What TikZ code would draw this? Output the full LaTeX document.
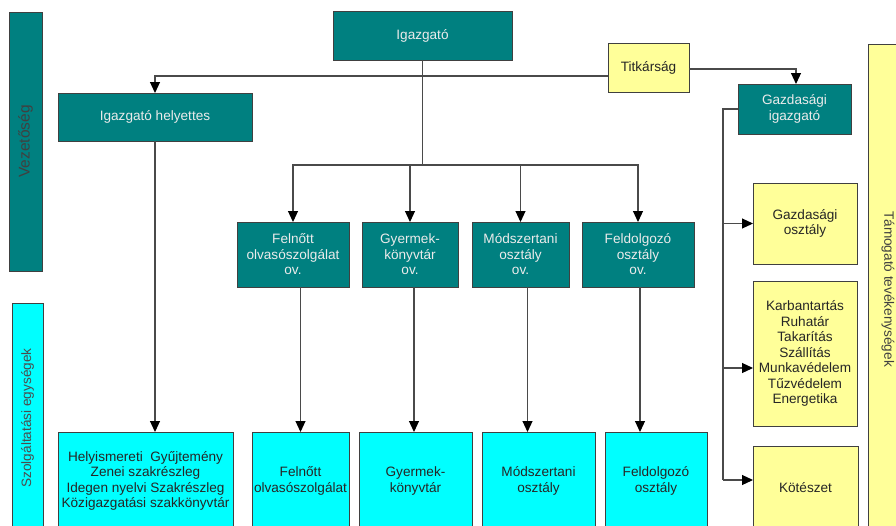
\documentclass[tikz,border=0pt]{standalone}
\usepackage{fontspec}
\setmainfont{Liberation Sans}
\usetikzlibrary{arrows.meta,positioning}
\definecolor{tealc}{HTML}{008080}
\definecolor{yelc}{HTML}{FFFF99}
\definecolor{cyanc}{HTML}{00FFFF}
\definecolor{bordc}{HTML}{404040}
\definecolor{linec}{HTML}{4A4A4A}
\tikzset{
  basebox/.style={draw=bordc, line width=0.9pt, inner sep=1pt, outer sep=0pt, align=center,
    font=\fontsize{13.6}{15.5}\selectfont},
  tealbox/.style={basebox, fill=tealc, text=white!92!black},
  yelbox/.style={basebox, fill=yelc, text=black!85},
  cyanbox/.style={basebox, fill=cyanc, text=black!85},
  nw/.style={anchor=north west},
  wh/.style 2 args={minimum width=#1pt, minimum height=#2pt},
  conn/.style={draw=linec, line width=1.1pt},
  arr/.style={conn, -{Triangle[length=11pt,width=10pt,fill=black,color=black]}},
}
\begin{document}
\begin{tikzpicture}[x=1pt,y=-1pt]
\useasboundingbox (0,0) rectangle (896,525);
% side bars
\node[tealbox, text=black!75, rotate=90, wh={259}{33}, font=\fontsize{15.5}{17}\selectfont] (vez) at (25.5,141.5) {Vezetőség};
\node[cyanbox, text=black!70, rotate=90, wh={230}{31}] (szolg) at (27.5,418) {Szolgáltatási egységek};
\node[yelbox, text=black!75, rotate=-90, wh={490}{40}] (tam) at (888,289) {Támogató tevékenységek};
% top
\node[tealbox, nw, wh={179}{49}] (ig) at (333,11) {Igazgató};
\node[tealbox, nw, wh={194}{48}] (hely) at (58,93) {Igazgató helyettes};
\node[yelbox, nw, wh={81}{49}] (tit) at (608,43) {Titkárság};
\node[tealbox, nw, wh={113}{50}] (gig) at (738,84) {Gazdasági\\igazgató};
% middle row
\node[tealbox, nw, wh={112}{65}] (f1) at (237,222) {Felnőtt\\olvasószolgálat\\ov.};
\node[tealbox, nw, wh={96}{65}] (f2) at (362,222) {Gyermek-\\könyvtár\\ov.};
\node[tealbox, nw, wh={97}{65}] (f3) at (472,222) {Módszertani\\osztály\\ov.};
\node[tealbox, nw, wh={112}{65}] (f4) at (582,222) {Feldolgozó\\osztály\\ov.};
% bottom row
\node[cyanbox, nw, wh={175}{98}] (b1) at (58,432) {Helyismereti\ \ Gyűjtemény\\Zenei szakrészleg\\Idegen nyelvi Szakrészleg\\Közigazgatási szakkönyvtár};
\node[cyanbox, nw, wh={97}{98}] (b2) at (252,432) {Felnőtt\\olvasószolgálat};
\node[cyanbox, nw, wh={113}{98}] (b3) at (359,432) {Gyermek-\\könyvtár};
\node[cyanbox, nw, wh={113}{98}] (b4) at (482,432) {Módszertani\\osztály};
\node[cyanbox, nw, wh={102}{98}] (b5) at (605,432) {Feldolgozó\\osztály};
% right column
\node[yelbox, nw, wh={104}{81}] (y1) at (753,183) {Gazdasági\\osztály};
\node[yelbox, nw, wh={104}{145}] (y2) at (753,281) {Karbantartás\\Ruhatár\\Takarítás\\Szállítás\\Munkavédelem\\Tűzvédelem\\Energetika};
\node[yelbox, nw, wh={105}{84}] (y3) at (753,446) {Kötészet};
% connectors
\coordinate (topbus) at (ig.south |- 0,76);
\coordinate (hub) at (ig.south |- 0,165);
\draw[conn] (ig.south) -- (hub);
\draw[arr] (topbus) -| (hely.north);
\draw[conn] (topbus) -- (tit.west |- topbus);
\draw[arr] (tit.east |- 0,69) -| ([xshift=1.5pt]gig.north);
\draw[arr] (hub) -| (f1.north);
\draw[arr] (hub) -| (f4.north);
\draw[arr] (f2.north |- hub) -- (f2.north);
\draw[arr] (f3.north |- hub) -- (f3.north);
\draw[arr] (hely.south) -- (hely.south |- b1.north);
\draw[arr] (b2.north |- f1.south) -- (b2.north);
\draw[arr] ([xshift=4pt]f2.south) -- ([xshift=4pt]f2.south |- b3.north);
\draw[arr] ([xshift=7pt]f3.south) -- ([xshift=7pt]f3.south |- b4.north);
\draw[arr] ([xshift=2pt]f4.south) -- ([xshift=2pt]f4.south |- b5.north);
\coordinate (rbus) at (723,109);
\coordinate (rbusend) at (723,480);
\draw[conn] (gig.west |- rbus) -- (rbus) -- (rbusend);
\draw[arr] (rbus |- y1.west) -- (y1.west);
\draw[arr] (rbus |- 0,368) -- (y2.west |- 0,368);
\draw[arr] (rbusend) -- (y3.west |- rbusend);
\end{tikzpicture}
\end{document}
